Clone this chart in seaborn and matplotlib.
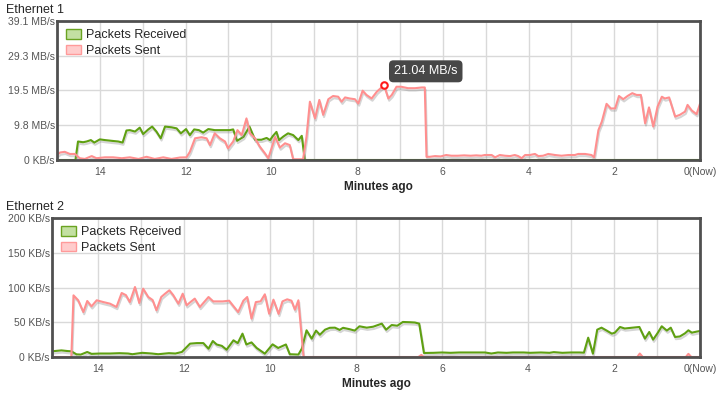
import pandas as pd
import seaborn as sns
import matplotlib.pyplot as plt
import matplotlib.patheffects as pe
from matplotlib.patches import Patch

# ---- data (minutes ago, value) ----
eth1_recv_min = [15.0, 14.57, 14.51, 14.39, 14.31, 14.21, 14.13, 14.0, 13.88, 13.73, 13.57, 13.47,
                 13.38, 13.30, 13.18, 13.07, 12.99, 12.87, 12.78, 12.68, 12.58, 12.48, 12.33, 12.21,
                 12.11, 11.99, 11.90, 11.80, 11.69, 11.59, 11.47, 11.32, 11.16, 10.97, 10.89, 10.80,
                 10.65, 10.51, 10.38, 10.23, 10.11, 10.03, 9.96, 9.88, 9.82, 9.72, 9.61, 9.49,
                 9.37, 9.29, 9.22, 0.0]
eth1_recv_val = [0.0, 0.0, 5.2, 5.0, 5.2, 5.6, 4.9, 5.8, 5.6, 5.4, 5.2, 4.9,
                 8.3, 8.4, 8.0, 9.1, 7.3, 8.6, 9.4, 8.0, 6.1, 9.4, 9.2, 8.9,
                 7.5, 8.7, 7.0, 8.6, 8.4, 7.7, 8.7, 8.4, 8.4, 8.4, 8.6, 5.4,
                 6.5, 9.4, 5.7, 5.7, 6.2, 5.6, 6.8, 7.9, 5.6, 6.6, 7.5, 7.0,
                 5.6, 6.8, 0.0, 0.0]

eth1_sent_min = [15.0, 14.93, 14.82, 14.70, 14.58, 14.47, 14.35, 14.19, 14.08, 13.88, 13.69, 13.49,
                 13.30, 13.10, 12.91, 12.72, 12.52, 12.33, 12.13, 11.98, 11.90, 11.78, 11.63, 11.51,
                 11.43, 11.32, 11.20, 11.08, 11.01, 10.89, 10.79, 10.69, 10.58, 10.50, 10.38, 10.27,
                 10.15, 10.07, 9.91, 9.80, 9.68, 9.57, 9.49, 9.26, 9.18, 9.10, 8.98, 8.88,
                 8.79, 8.67, 8.56, 8.44, 8.36, 8.28, 8.17, 8.05, 7.97, 7.87, 7.78, 7.66,
                 7.54, 7.37, 7.27, 7.19, 7.08, 6.97, 6.81, 6.65, 6.49, 6.42, 6.38, 6.30,
                 6.18, 6.05, 5.92, 5.80, 5.65, 5.50, 5.35, 5.22, 5.10, 5.02, 4.86, 4.78,
                 4.67, 4.55, 4.43, 4.32, 4.24, 4.16, 4.08, 3.97, 3.85, 3.77, 3.66, 3.54,
                 3.38, 3.23, 3.07, 2.92, 2.84, 2.68, 2.53, 2.47, 2.37, 2.29, 2.18, 2.08,
                 1.98, 1.89, 1.79, 1.69, 1.58, 1.48, 1.38, 1.28, 1.19, 1.09, 0.99, 0.89,
                 0.82, 0.72, 0.58, 0.47, 0.35, 0.29, 0.19, 0.08, 0.0]
eth1_sent_val = [1.4, 2.1, 2.3, 1.7, 1.7, 0.5, 0.3, 1.1, 0.5, 0.75, 0.75, 0.5,
                 0.75, 0.3, 0.9, 0.3, 0.75, 0.3, 0.7, 0.75, 2.3, 6.1, 6.4, 6.1,
                 4.2, 7.5, 6.1, 5.2, 3.3, 5.2, 8.4, 7.0, 11.7, 7.5, 6.1, 3.8,
                 1.9, 0.5, 6.5, 3.5, 4.7, 4.2, 0.2, 0.2, 6.5, 16.4, 11.7, 16.9,
                 12.7, 17.1, 18.0, 17.8, 16.4, 17.6, 17.3, 17.1, 15.9, 19.5, 18.3, 17.3,
                 19.2, 21.04, 17.3, 18.3, 20.6, 20.6, 20.2, 20.2, 20.4, 20.4, 0.9, 0.9,
                 1.1, 1.0, 1.4, 1.2, 1.2, 1.3, 1.2, 1.3, 1.2, 1.4, 1.4, 0.75,
                 1.4, 1.2, 1.1, 1.4, 1.1, 0.5, 1.4, 1.4, 1.7, 1.1, 1.2, 1.7,
                 1.4, 1.2, 1.4, 1.4, 1.7, 1.7, 1.4, 0.75, 8.4, 10.8, 15.8, 14.5,
                 14.5, 18.0, 17.1, 18.0, 18.8, 18.3, 18.3, 10.3, 14.8, 9.4, 15.0, 17.8,
                 17.3, 17.6, 12.2, 12.7, 13.6, 15.5, 13.9, 12.9, 15.8]

eth2_recv_min = [15.07, 14.85, 14.7, 14.62, 14.5, 14.4, 14.25, 14.15, 13.95, 13.72, 13.5, 13.3,
                 13.2, 12.97, 12.75, 12.6, 12.35, 12.2, 12.05, 11.86, 11.70, 11.55, 11.43, 11.33,
                 11.24, 11.12, 11.01, 10.85, 10.75, 10.64, 10.55, 10.43, 10.31, 10.12, 9.94, 9.81,
                 9.63, 9.54, 9.34, 9.26, 9.15, 9.03, 8.93, 8.84, 8.72, 8.61, 8.49, 8.38,
                 8.30, 8.15, 8.03, 7.92, 7.75, 7.60, 7.40, 7.30, 7.17, 7.04, 6.91, 6.74,
                 6.63, 6.53, 6.42, 6.2, 6.0, 5.8, 5.6, 5.4, 5.2, 5.0, 4.85, 4.7,
                 4.5, 4.35, 4.1, 3.95, 3.7, 3.5, 3.4, 3.2, 3.0, 2.80, 2.70, 2.60,
                 2.49, 2.39, 2.29, 2.17, 2.05, 1.98, 1.86, 1.75, 1.60, 1.41, 1.28, 1.18,
                 1.09, 0.98, 0.89, 0.77, 0.68, 0.58, 0.47, 0.35, 0.27, 0.19, 0.08, 0.0]
eth2_recv_val = [8.2, 9.5, 8.5, 8.2, 3.8, 3.5, 7.2, 4.5, 5.0, 5.0, 5.5, 5.0,
                 4.0, 6.0, 5.0, 4.0, 5.5, 5.0, 7.2, 19.2, 20.0, 20.0, 12.0, 23.0,
                 18.0, 16.0, 10.5, 24.0, 20.0, 33.6, 18.0, 21.0, 13.0, 4.8, 18.2, 13.0,
                 18.0, 4.0, 3.5, 12.0, 38.4, 26.4, 38.0, 32.0, 39.3, 42.0, 42.2, 39.0,
                 42.0, 40.0, 38.0, 44.2, 42.2, 43.6, 48.0, 39.3, 46.0, 45.0, 50.4, 50.0,
                 49.6, 48.0, 5.8, 6.0, 6.5, 6.0, 6.5, 6.5, 6.5, 6.5, 5.0, 6.5,
                 6.0, 6.5, 6.5, 6.0, 6.5, 6.0, 7.0, 6.0, 6.5, 6.5, 6.2, 27.8,
                 4.8, 39.3, 42.2, 38.0, 33.6, 35.0, 43.2, 41.0, 42.0, 43.2, 26.4, 36.0,
                 25.0, 35.0, 44.2, 38.0, 42.2, 28.8, 29.5, 34.0, 38.4, 35.0, 36.5, 37.4]

eth2_sent_min = [15.07, 14.62, 14.57, 14.46, 14.34, 14.25, 14.15, 14.03, 13.88, 13.72, 13.57, 13.45,
                 13.35, 13.26, 13.14, 13.04, 12.95, 12.83, 12.73, 12.64, 12.53, 12.44, 12.34, 12.25,
                 12.13, 12.03, 11.94, 11.85, 11.75, 11.63, 11.43, 11.32, 11.1, 10.95, 10.74, 10.62,
                 10.53, 10.43, 10.33, 10.22, 10.12, 10.02, 9.92, 9.80, 9.71, 9.60, 9.50, 9.42,
                 9.34, 9.22, 6.55, 6.48, 6.42, 1.46, 1.40, 1.33, 0.33, 0.27, 0.2, 0.0]
eth2_sent_val = [0.0, 0.0, 88.7, 81.6, 64.7, 80.6, 72.9, 81.6, 79.1, 76.7, 72.0, 92.1,
                 89.0, 79.1, 100.7, 77.7, 98.3, 86.3, 82.0, 67.2, 86.3, 91.1, 96.0, 89.0,
                 76.7, 91.1, 74.4, 79.0, 84.0, 72.0, 86.3, 80.0, 80.0, 81.0, 64.7, 81.0,
                 86.3, 55.2, 79.0, 80.0, 90.2, 62.3, 82.5, 62.0, 80.0, 83.0, 81.0, 68.1,
                 81.6, 0.0, 0.0, 3.0, 0.0, 0.0, 5.0, 0.0, 0.0, 4.5, 0.0, 0.0]

eth1_yticks = [0, 9.775, 19.55, 29.325, 39.1]
eth1_ylabels = ["0 KB/s", "9.8 MB/s", "19.5 MB/s", "29.3 MB/s", "39.1 MB/s"]
eth2_yticks = [0, 50, 100, 150, 200]
eth2_ylabels = ["0 KB/s", "50 KB/s", "100 KB/s", "150 KB/s", "200 KB/s"]
minute_ticks = list(range(0, 15))
minute_labels = ["0(Now)" if m == 0 else (str(m) if m % 2 == 0 else "") for m in minute_ticks]

peak_min = 7.37
peak_val = 21.04
peak_text = "21.04 MB/s"

GREEN = "#5fa012"
PINK = "#ff8f8f"

sns.set_style("white")
plt.rcParams["font.family"] = ["Liberation Sans", "DejaVu Sans"]

W, H = 723, 397
fig = plt.figure(figsize=(W / 100, H / 100), dpi=100)


def px_axes(left, top, right, bottom):
    return fig.add_axes([left / W, 1 - bottom / H, (right - left) / W, (bottom - top) / H])


shadow = [pe.SimpleLineShadow(offset=(0.6, -1.6), shadow_color="#888888", alpha=0.35),
          pe.Normal()]


def draw_panel(ax, recv_m, recv_v, sent_m, sent_v, xmax, ymax, yticks, ylabels):
    recv = pd.DataFrame({"minutes": recv_m, "value": recv_v})
    sent = pd.DataFrame({"minutes": sent_m, "value": sent_v})
    sns.lineplot(data=recv, x="minutes", y="value", ax=ax, color=GREEN, lw=1.5,
                 sort=False, estimator=None, path_effects=shadow)
    sns.lineplot(data=sent, x="minutes", y="value", ax=ax, color=PINK, lw=1.5,
                 sort=False, estimator=None, path_effects=shadow)
    ax.set_xlim(xmax, 0)
    ax.set_ylim(0, ymax)
    ax.set_xticks(minute_ticks)
    ax.set_xticklabels(minute_labels)
    ax.set_yticks(yticks)
    ax.set_yticklabels(ylabels)
    ax.tick_params(axis="both", length=0, labelsize=7.5, colors="#555555")
    ax.tick_params(axis="x", pad=5)
    ax.tick_params(axis="y", pad=1.5)
    ax.grid(True, color="#d9d9d9", lw=1)
    ax.set_axisbelow(True)
    for s in ax.spines.values():
        s.set_color("#505050")
        s.set_linewidth(2)
        s.set_zorder(5)
    ax.set_ylabel("")
    ax.set_xlabel("Minutes ago", fontsize=8.5, fontweight="bold", labelpad=3)
    handles = [Patch(facecolor="#c3e0a2", edgecolor="#6aa321", lw=1),
               Patch(facecolor="#ffcccc", edgecolor="#ff9a9a", lw=1)]
    ax.legend(handles, ["Packets Received", "Packets Sent"], loc="upper left",
              bbox_to_anchor=(9 / 643, 1 - 8 / 139), borderaxespad=0, frameon=False,
              fontsize=9, handlelength=1.2, handleheight=0.8, handletextpad=0.4,
              labelspacing=0.3, borderpad=0)


ax1 = px_axes(57, 21, 700, 160)
draw_panel(ax1, eth1_recv_min, eth1_recv_val, eth1_sent_min, eth1_sent_val,
           15.0, 39.1, eth1_yticks, eth1_ylabels)

# hovered point + tooltip
pk = pd.DataFrame({"minutes": [peak_min], "value": [peak_val]})
sns.scatterplot(data=pk, x="minutes", y="value", ax=ax1, s=22, color="white",
                edgecolor="#ff1a1a", linewidth=1.5, zorder=6)
ax1.set_xlabel("Minutes ago", fontsize=8.5, fontweight="bold", labelpad=3)
ax1.set_ylabel("")
ax1.annotate(peak_text, xy=(peak_min, peak_val), xytext=(30, 10), textcoords="offset points",
             ha="center", va="center", color="white", fontsize=9, zorder=7,
             bbox=dict(boxstyle="round,pad=0.4,rounding_size=0.35", fc="#474747", ec="none"))

ax2 = px_axes(52, 218, 700, 357)
draw_panel(ax2, eth2_recv_min, eth2_recv_val, eth2_sent_min, eth2_sent_val,
           15.07, 200, eth2_yticks, eth2_ylabels)

fig.text(6 / W, 1 - 10 / H, "Ethernet 1", fontsize=9, va="center", ha="left")
fig.text(6 / W, 1 - 207 / H, "Ethernet 2", fontsize=9, va="center", ha="left")

fig.savefig("out.png", dpi=100)
